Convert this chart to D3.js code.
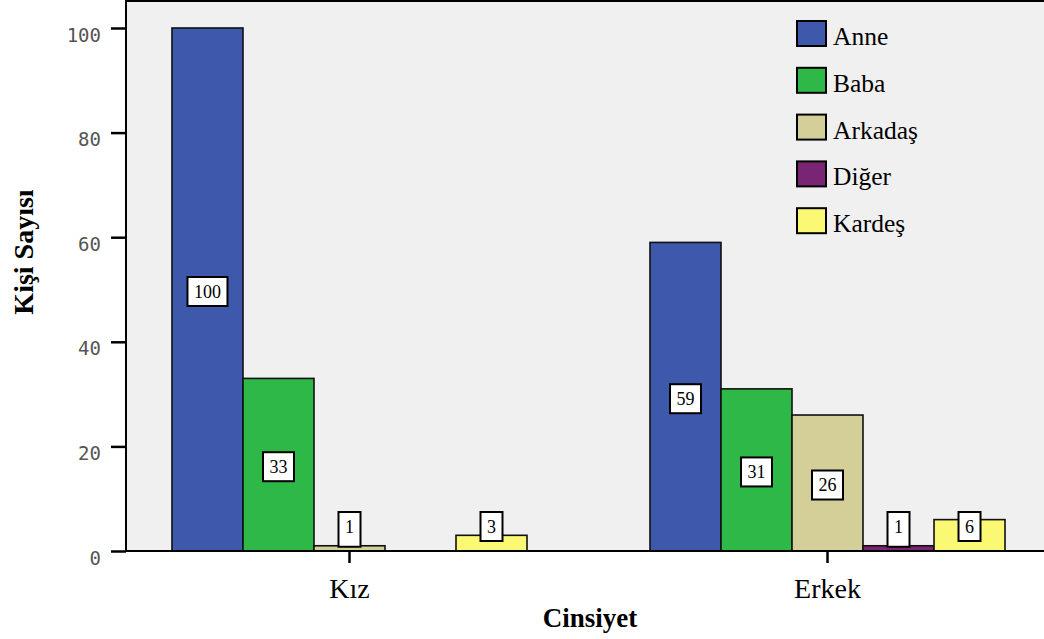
<!DOCTYPE html>
<html>
<head>
<meta charset="utf-8">
<script src="https://cdn.jsdelivr.net/npm/d3@7/dist/d3.min.js"></script>
<style>
  html, body { margin: 0; padding: 0; background: #fff; }
  svg { display: block; }
</style>
</head>
<body>
<svg id="chart" width="1044" height="639"></svg>
<script>
// Groups on the x axis and the series drawn inside each group
const categories = ["Kız", "Erkek"];
const seriesNames = ["Anne", "Baba", "Arkadaş", "Diğer", "Kardeş"];
const seriesColors = ["#3e58ac", "#2eb848", "#d4cf98", "#7a2574", "#fbf873"];

// Counts per series, in category order (Kız, Erkek)
const anne = [100, 59];
const baba = [33, 31];
const arkadas = [1, 26];
const diger = [0, 1];
const kardes = [3, 6];
const seriesValues = [anne, baba, arkadas, diger, kardes];

const yTicks = [0, 20, 40, 60, 80, 100];

const svg = d3.select("#chart");
const plot = { left: 126, top: 1, right: 1051, bottom: 551 };

const y = d3.scaleLinear().domain([0, 100]).range([plot.bottom, 28]);

const x0 = d3.scaleBand()
  .domain(categories)
  .range([plot.left, plot.right])
  .paddingInner(0.2573)
  .paddingOuter(0.0962);

const x1 = d3.scaleBand()
  .domain(seriesNames)
  .range([0, x0.bandwidth()]);

// Plot background and frame
svg.append("rect")
  .attr("x", plot.left).attr("y", plot.top)
  .attr("width", plot.right - plot.left)
  .attr("height", plot.bottom - plot.top)
  .attr("fill", "#f0f0f0")
  .attr("stroke", "#000")
  .attr("stroke-width", 2);

// Flattened records: one per bar
const records = [];
categories.forEach((c, ci) => {
  seriesNames.forEach((s, si) => {
    records.push({ cat: c, series: s, value: seriesValues[si][ci], color: seriesColors[si] });
  });
});

const groups = svg.append("g");

// Bars (zero counts are not drawn)
groups.selectAll("rect.bar")
  .data(records.filter(d => d.value > 0))
  .join("rect")
  .attr("class", "bar")
  .attr("x", d => x0(d.cat) + x1(d.series))
  .attr("y", d => y(d.value))
  .attr("width", x1.bandwidth())
  .attr("height", d => y(0) - y(d.value))
  .attr("fill", d => d.color)
  .attr("stroke", "#111")
  .attr("stroke-width", 1.6);

// Value labels in white boxes
const labelG = svg.append("g");
records.filter(d => d.value > 0).forEach(d => {
  const cx = x0(d.cat) + x1(d.series) + x1.bandwidth() / 2;
  const mid = (y(d.value) + y(0)) / 2;
  const top = Math.min(mid + 2 - 14.5, 512);
  const bottom = Math.max(top + 29, y(d.value) + 1);
  const g = labelG.append("g");
  const rect = g.append("rect").attr("fill", "#fff").attr("stroke", "#000").attr("stroke-width", 2);
  const t = g.append("text")
    .attr("x", cx)
    .attr("y", top + 20.5)
    .attr("text-anchor", "middle")
    .attr("font-family", "'Liberation Serif', 'Times New Roman', serif")
    .attr("font-size", 18)
    .attr("fill", "#000")
    .text(d.value);
  const w = t.node().getComputedTextLength() + 13;
  rect.attr("x", cx - w / 2).attr("y", top).attr("width", w).attr("height", bottom - top);
});

// Y axis
const yAxis = svg.append("g")
  .attr("transform", `translate(${plot.left},0)`)
  .call(d3.axisLeft(y).tickValues(yTicks).tickSize(15).tickPadding(10));
yAxis.select(".domain").remove();
yAxis.selectAll(".tick line").attr("stroke", "#000").attr("stroke-width", 2.5);
yAxis.selectAll(".tick text")
  .attr("font-family", "'DejaVu Sans Mono', monospace")
  .attr("font-size", 19)
  .attr("fill", "#555")
  .attr("dy", null)
  .attr("y", 13);

// X axis
const xAxis = svg.append("g")
  .attr("transform", `translate(0,${plot.bottom})`)
  .call(d3.axisBottom(x0).tickSize(12).tickSizeOuter(0));
xAxis.select(".domain").attr("stroke", "#000").attr("stroke-width", 2)
  .attr("d", `M${plot.left},0H${plot.right}`);
xAxis.selectAll(".tick line").attr("stroke", "#000").attr("stroke-width", 2.5);
xAxis.selectAll(".tick text")
  .attr("font-family", "'Liberation Serif', 'Times New Roman', serif")
  .attr("font-size", 28)
  .attr("fill", "#000")
  .attr("dy", null)
  .attr("y", 47);

// Axis titles
svg.append("text")
  .attr("x", 590).attr("y", 627)
  .attr("text-anchor", "middle")
  .attr("font-family", "'Liberation Serif', 'Times New Roman', serif")
  .attr("font-weight", "bold")
  .attr("font-size", 27)
  .text("Cinsiyet");

svg.append("text")
  .attr("transform", "translate(33,252) rotate(-90)")
  .attr("text-anchor", "middle")
  .attr("font-family", "'Liberation Serif', 'Times New Roman', serif")
  .attr("font-weight", "bold")
  .attr("font-size", 28)
  .text("Kişi Sayısı");

// Legend
const legend = svg.append("g");
seriesNames.forEach((s, i) => {
  const ty = 21 + i * 46.8;
  legend.append("rect")
    .attr("x", 797).attr("y", ty)
    .attr("width", 29).attr("height", 25)
    .attr("fill", seriesColors[i])
    .attr("stroke", "#000").attr("stroke-width", 2);
  legend.append("text")
    .attr("x", 833).attr("y", ty + 24)
    .attr("font-family", "'Liberation Serif', 'Times New Roman', serif")
    .attr("font-size", 25.5)
    .attr("fill", "#000")
    .text(s);
});
</script>
</body>
</html>
